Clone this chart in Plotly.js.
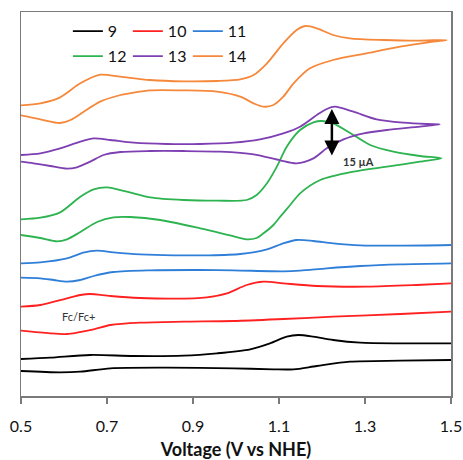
<!DOCTYPE html>
<html>
<head>
<meta charset="utf-8">
<script src="https://cdn.plot.ly/plotly-3.0.1.min.js"></script>
<style>html,body{margin:0;padding:0;background:#fff;}#chart{width:463px;height:460px;}</style>
</head>
<body>
<div id="chart"></div>
<script>
// Sample names (legend)
const names = ['9', '10', '11', '12', '13', '14'];
const colors = ['#000000', '#FF2020', '#2F7ED8', '#2DB34F', '#7D3FB2', '#F5883A'];

// Voltage (V vs NHE) and offset current (µA) for each CV; upper branch L->R, then lower branch R->L
const v9 = [0.500,0.568,0.661,0.762,0.878,0.956,1.033,1.079,1.118,1.145,1.180,1.226,1.289,1.382,1.500, null,
            1.500,1.382,1.265,1.188,1.134,1.087,0.994,0.839,0.708,0.638,0.591,0.500];
const i9 = [11.1,11.5,12.3,12.0,12.1,12.8,14.0,15.8,17.8,18.3,17.8,16.8,16.0,15.8,15.8, null,
            10.8,10.6,10.3,9.0,8.0,8.0,8.3,8.5,8.3,7.3,7.1,7.5];

const v10 = [0.500,0.545,0.607,0.638,0.661,0.708,0.777,0.855,0.932,0.979,1.025,1.064,1.110,1.188,1.304,1.420,1.500, null,
             1.500,1.382,1.226,1.110,0.994,0.878,0.777,0.708,0.669,0.630,0.607,0.568,0.500];
const i10 = [26.8,27.3,29.3,30.3,30.6,30.0,29.4,29.2,29.6,30.8,33.3,34.3,33.8,33.0,32.8,33.3,33.8, null,
             25.3,24.6,23.8,23.1,22.5,22.3,22.0,21.3,20.0,19.0,18.6,18.8,19.6];

const v11 = [0.500,0.545,0.607,0.645,0.677,0.715,0.777,0.855,0.932,1.010,1.072,1.110,1.141,1.180,1.226,1.289,1.382,1.500, null,
             1.500,1.382,1.289,1.211,1.149,1.110,0.994,0.917,0.800,0.715,0.669,0.638,0.607,0.576,0.545,0.500];
const i11 = [39.8,40.1,41.3,43.0,43.6,43.1,42.5,42.2,42.2,42.6,44.0,45.8,46.8,46.5,45.8,45.2,45.1,45.3, null,
             39.8,39.5,39.0,38.3,37.6,37.4,37.7,37.8,37.7,37.2,36.0,34.8,34.3,34.8,35.3,35.5];

const v12 = [0.500,0.545,0.591,0.638,0.669,0.700,0.746,0.800,0.878,0.956,1.025,1.048,1.072,1.095,1.118,1.149,1.180,1.200,1.226,1.273,1.312,1.366,1.428,1.478,
             1.428,1.351,1.273,1.196,1.149,1.126,1.103,1.087,1.064,1.048,1.025,0.986,0.917,0.824,0.754,0.715,0.677,0.638,0.607,0.584,0.545,0.500];
const i12 = [53.0,53.5,55.1,59.8,62.0,62.6,61.3,59.6,58.8,58.6,58.8,60.3,63.8,68.8,74.8,79.8,82.1,82.5,81.8,78.3,75.3,73.3,72.0,71.3,
             70.3,68.8,67.3,64.8,60.8,57.3,53.8,51.3,48.8,47.4,47.0,48.2,50.3,52.8,53.7,53.6,52.2,49.2,47.0,46.4,47.4,48.3];

const v13 = [0.500,0.545,0.591,0.638,0.669,0.708,0.762,0.839,0.917,0.994,1.056,1.110,1.149,1.188,1.211,1.230,1.273,1.327,1.390,1.444,1.474,
             1.428,1.351,1.297,1.250,1.211,1.180,1.141,1.103,1.041,0.963,0.878,0.800,0.731,0.692,0.661,0.630,0.607,0.568,0.529,0.500];
const i13 = [72.3,72.8,74.3,76.3,77.3,76.8,76.0,75.6,75.6,76.0,77.0,78.8,80.8,84.3,86.1,86.8,85.3,83.0,82.0,81.6,81.5,
             80.8,79.8,78.8,77.0,74.3,71.3,69.8,70.7,72.5,73.3,73.5,73.5,73.2,72.3,70.3,68.6,68.2,69.0,69.8,70.3];

const v14 = [0.500,0.545,0.591,0.638,0.684,0.731,0.800,0.878,0.956,1.010,1.041,1.072,1.110,1.141,1.161,1.188,1.226,1.265,1.343,1.420,1.490,
             1.459,1.382,1.304,1.226,1.172,1.134,1.110,1.087,1.064,1.041,1.010,0.956,0.878,0.800,0.762,0.723,0.684,0.645,0.615,0.591,0.545,0.500];
const i14 = [87.2,87.8,89.6,93.8,96.4,95.8,94.8,94.4,94.5,95.0,96.3,99.8,105.8,109.8,111.0,110.3,108.3,107.3,106.8,106.6,106.8,
             106.3,104.8,102.8,100.8,98.3,93.8,89.8,87.3,86.8,87.8,89.8,91.3,91.7,91.7,91.0,90.0,88.3,85.2,82.8,81.9,83.0,84.2];

const xs = [v9, v10, v11, v12, v13, v14];
const ys = [i9, i10, i11, i12, i13, i14];

const xTicks = [0.5, 0.7, 0.9, 1.1, 1.3, 1.5];
const xTickText = ['0.5', '0.7', '0.9', '1.1', '1.3', '1.5'];

// scale bar and labels
const scaleBarV = 1.223, scaleBarTop = 86.1, scaleBarBottom = 71.7;
const scaleText = '15 µA';
const fcText = 'Fc/Fc+';

const FONT = 'Lato, "Open Sans", sans-serif';

const legendIds = ['legend', 'legend2', 'legend3', 'legend4', 'legend5', 'legend6'];

const traces = names.map((n, k) => ({
  x: xs[k], y: ys[k], name: n, type: 'scatter', mode: 'lines',
  line: {color: colors[k], width: 1.8, shape: 'spline', smoothing: 0.8},
  connectgaps: false,
  legend: legendIds[k],
  hoverinfo: 'skip'
}));

const legendCommon = {
  orientation: 'h', xanchor: 'left', yanchor: 'middle',
  font: {family: FONT, size: 16, color: '#111'},
  bgcolor: 'rgba(0,0,0,0)', borderwidth: 0,
  itemclick: false, itemdoubleclick: false
};

const layout = {
  width: 463, height: 460,
  margin: {l: 21, r: 12, t: 12, b: 64},
  paper_bgcolor: '#fff', plot_bgcolor: '#fff',
  font: {family: FONT, color: '#111'},
  showlegend: true,
  xaxis: {
    range: [0.5, 1.5], tickvals: xTicks, ticktext: xTickText,
    showgrid: false, zeroline: false,
    showline: true, mirror: true, linecolor: '#7a7a7a', linewidth: 1.5,
    ticks: 'outside', ticklen: 6, tickwidth: 1.2, tickcolor: '#7a7a7a',
    tickfont: {family: FONT, size: 16, color: '#111'},
    ticklabelstandoff: 9,
    title: {text: '<b>Voltage (V vs NHE)</b>', font: {family: FONT, size: 18, color: '#111'}, standoff: 15}
  },
  yaxis: {
    range: [0, 115.2], showgrid: false, zeroline: false, showticklabels: false, ticks: '',
    showline: true, mirror: true, linecolor: '#7a7a7a', linewidth: 1.5
  },
  annotations: [
    {x: scaleBarV, y: scaleBarTop, ax: scaleBarV, ay: scaleBarBottom, xref: 'x', yref: 'y', axref: 'x', ayref: 'y',
     text: '', showarrow: true, arrowside: 'end+start', arrowhead: 2, startarrowhead: 2,
     arrowsize: 1.2, startarrowsize: 1.2, arrowwidth: 2.5, arrowcolor: '#000', standoff: 0, startstandoff: 0},
    {x: 1.286, y: 70.3, xref: 'x', yref: 'y', text: '<b>' + scaleText + '</b>', showarrow: false,
     font: {family: FONT, size: 11, color: '#333'}},
    {x: 0.633, y: 24.0, xref: 'x', yref: 'y', text: fcText, showarrow: false,
     font: {family: FONT, size: 11, color: '#333'}}
  ]
};

// one legend per entry, laid out in 2 rows x 3 columns
legendIds.forEach((id, k) => {
  const col = k % 3, row = Math.floor(k / 3);
  layout[id] = Object.assign({}, legendCommon, {x: 0.109 + col * 0.1395, y: row === 0 ? 0.95 : 0.885});
});

Plotly.newPlot('chart', traces, layout, {staticPlot: true, displayModeBar: false});
</script>
</body>
</html>
